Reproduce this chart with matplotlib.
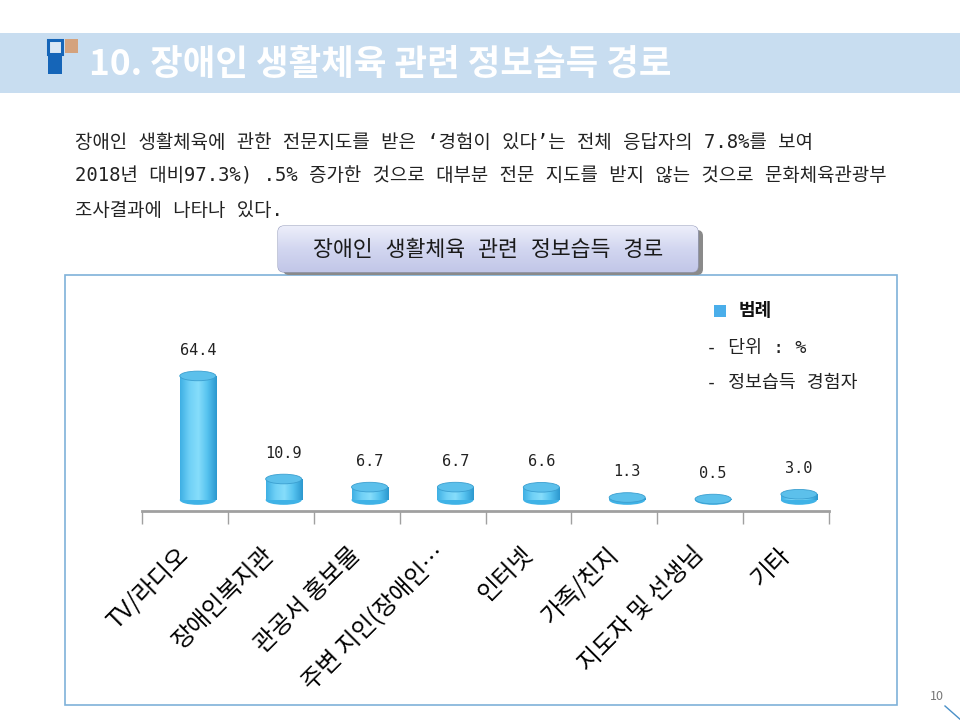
import matplotlib
matplotlib.use("Agg")
import matplotlib.pyplot as plt
import matplotlib.patches as patches
import matplotlib.transforms as mtransforms
from matplotlib.colors import LinearSegmentedColormap
import numpy as np

plt.rcParams['font.family'] = ['Noto Sans CJK KR', 'DejaVu Sans']
# slide text is in a fixed-pitch face: latin from a mono font, hangul from Noto
MONO = ['DejaVu Sans Mono', 'Noto Sans CJK KR']

# data
categories = ["TV/라디오", "장애인복지관", "관공서 홍보물", "주변 지인(장애인…",
              "인터넷", "가족/친지", "지도자 및 선생님", "기타"]
values = [64.4, 10.9, 6.7, 6.7, 6.6, 1.3, 0.5, 3.0]
value_labels = ["64.4", "10.9", "6.7", "6.7", "6.6", "1.3", "0.5", "3.0"]

page_title = "10. 장애인 생활체육 관련 정보습득 경로"
chart_title = "장애인 생활체육 관련 정보습득 경로"
body_lines = [
    "장애인 생활체육에 관한 전문지도를 받은 ‘경험이 있다’는 전체 응답자의 7.8%를 보여",
    "2018년 대비97.3%) .5% 증가한 것으로 대부분 전문 지도를 받지 않는 것으로 문화체육관광부",
    "조사결과에 나타나 있다.",
]
legend_head = "범례"
legend_lines = ["- 단위 : %", "- 정보습득 경험자"]

W, H = 960, 720
fig = plt.figure(figsize=(9.6, 7.2), dpi=100)
fig.patch.set_facecolor("white")


def px(x, y):
    # pixel coords (top-left origin) -> figure fraction
    return x / W, 1 - y / H


# page overlay in pixel space
bg = fig.add_axes([0, 0, 1, 1])
bg.axis("off")

# title band + icon
bg.add_patch(patches.Rectangle((0, 33), W, 60, color="#c8ddf0", lw=0))
bg.add_patch(patches.Rectangle((48, 40), 14, 14, facecolor="#dbe8f5", edgecolor="#1565b8", lw=2.2))
bg.add_patch(patches.Rectangle((48, 56), 14, 18, color="#1565b8", lw=0))
bg.add_patch(patches.Rectangle((65, 39), 13, 14, color="#d4a27d", lw=0))
bg.text(89, 64, page_title, color="white", fontsize=25.5, fontweight="bold",
        va="center", ha="left")

# body text
for i, line in enumerate(body_lines):
    bg.text(75, 142 + i * 34, line, fontsize=13.6, color="#222222",
            va="center", ha="left", family=MONO)

# chart frame
bg.add_patch(patches.Rectangle((65, 275), 832, 430, fill=False,
                               edgecolor="#7fb2d9", lw=1.2))

# chart title box with shadow and gradient
bg.add_patch(patches.FancyBboxPatch((283, 230), 420, 45, boxstyle="round,pad=0,rounding_size=6",
                                    color="#8a8a8a", lw=0))
grad = np.linspace(0, 1, 50).reshape(-1, 1)
cm_box = LinearSegmentedColormap.from_list("box", ["#eceefa", "#d2d6f0", "#c2c7e8"])
box = patches.FancyBboxPatch((278, 226), 420, 46, boxstyle="round,pad=0,rounding_size=6",
                             facecolor="none", edgecolor="#9aa0c0", lw=0.8)
bg.add_patch(box)
im = bg.imshow(grad, extent=(278, 698, 272, 226), cmap=cm_box, aspect="auto", zorder=1)
im.set_clip_path(box)
bg.text(488, 250, chart_title, fontsize=15.6, color="#1a1a1a", ha="center", va="center",
        zorder=3, family=MONO)
bg.set_xlim(0, W)
bg.set_ylim(H, 0)

# page number
bg.text(937, 697, "10", fontsize=9, color="#777777", ha="center", va="center")
bg.plot([945, 962], [706, 721], color="#4a90c8", lw=1)

# legend
bg.add_patch(patches.Rectangle((714, 305), 12, 12, color="#4aaeea", lw=0))
bg.text(739, 311, legend_head, fontsize=13, fontweight="bold", color="#111111", va="center")
for i, line in enumerate(legend_lines):
    bg.text(706, 348 + i * 35, line, fontsize=13.2, color="#222222", va="center", family=MONO)

# chart axes
ax_left, ax_bottom = px(142, 511)
ax_right, ax_top = px(829, 290)
ax = fig.add_axes([ax_left, ax_bottom, ax_right - ax_left, ax_top - ax_bottom])
ax.set_facecolor("none")

x = np.arange(len(categories))
shift = 0.15      # 3d perspective pushes the cylinders right of the slot centre
bar_w = 0.42
cap_h = 5.0
cm_bar = LinearSegmentedColormap.from_list(
    "bar", ["#3fb0e4", "#6fd0f6", "#86ddfb", "#55c2ef", "#2c98cf"])
hgrad = np.linspace(0, 1, 64).reshape(1, -1)

for xi, v, lab in zip(x + shift, values, value_labels):
    body = patches.Rectangle((xi - bar_w / 2, 0), bar_w, v, facecolor="none", lw=0)
    ax.add_patch(body)
    bim = ax.imshow(hgrad, extent=(xi - bar_w / 2, xi + bar_w / 2, 0, v),
                    cmap=cm_bar, aspect="auto", origin="lower", zorder=2)
    bim.set_clip_path(body)
    ax.add_patch(patches.Ellipse((xi, 0), bar_w, cap_h, facecolor="#3fb2e6",
                                 edgecolor="none", zorder=1.9))
    ax.add_patch(patches.Ellipse((xi, v), bar_w, cap_h, facecolor="#5cc0eb",
                                 edgecolor="#3b9fd0", lw=0.6, zorder=3))
    ax.text(xi, v + 9.5, lab, ha="center", va="bottom", fontsize=11,
            color="#222222", family=MONO)

ax.set_xlim(-0.5, len(categories) - 0.5)
ax.set_ylim(-5.7, 109)

for s in ["top", "right", "left"]:
    ax.spines[s].set_visible(False)
ax.spines["bottom"].set_color("#a0a0a0")
ax.spines["bottom"].set_linewidth(2)
ax.set_yticks([])

ax.set_xticks(np.arange(-0.5, len(categories)), [""] * (len(categories) + 1))
ax.tick_params(axis="x", which="major", length=9, color="#a0a0a0", width=1)
ax.set_xticks(x, categories, minor=True, rotation=45, ha="right",
              rotation_mode="anchor", fontsize=17.3)
ax.tick_params(axis="x", which="minor", length=0, pad=0)
offset = mtransforms.ScaledTranslation(0.0, -0.40, fig.dpi_scale_trans)
for lbl in ax.get_xticklabels(minor=True):
    lbl.set_transform(lbl.get_transform() + offset)
    lbl.set_va("center")

fig.savefig("out.png", dpi=100)
